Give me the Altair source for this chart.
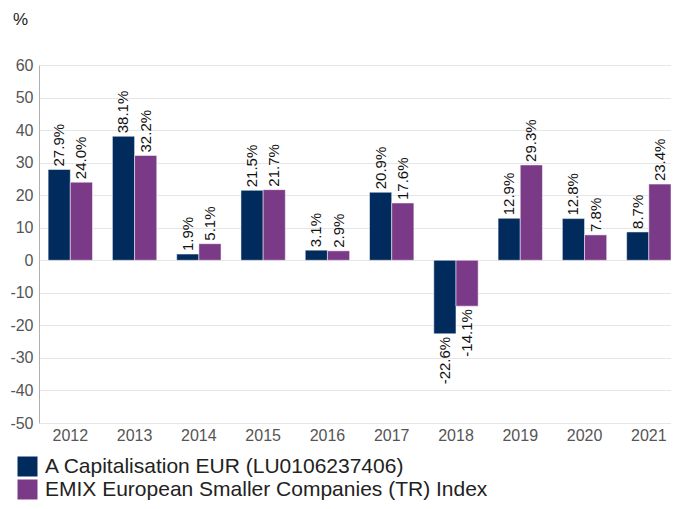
import altair as alt
import pandas as pd

years = ["2012", "2013", "2014", "2015", "2016", "2017", "2018", "2019", "2020", "2021"]
series_names = ["A Capitalisation EUR (LU0106237406)", "EMIX European Smaller Companies (TR) Index"]
fund = [27.9, 38.1, 1.9, 21.5, 3.1, 20.9, -22.6, 12.9, 12.8, 8.7]
index = [24.0, 32.2, 5.1, 21.7, 2.9, 17.6, -14.1, 29.3, 7.8, 23.4]
colors = ["#002B5C", "#7B3A88"]

rows = []
for i, y in enumerate(years):
    for s, vals in zip(series_names, [fund, index]):
        rows.append({"year": y, "series": s, "value": vals[i], "label": f"{vals[i]:.1f}%"})
df = pd.DataFrame(rows)

FONT = "Liberation Sans"

x = alt.X("year:N", title=None, sort=years,
          scale=alt.Scale(paddingInner=0.31, paddingOuter=0.071, align=1),
          axis=alt.Axis(labelAngle=0, labelFontSize=16, labelColor="#555555", labelFont=FONT,
                        ticks=False, domain=False, labelPadding=4, grid=False))
y = alt.Y("value:Q", title=None,
          scale=alt.Scale(domain=[-50, 60], nice=False),
          axis=alt.Axis(values=list(range(-50, 61, 10)), labelFontSize=16, labelColor="#555555",
                        labelFont=FONT, ticks=False, domain=True, domainColor="#b0b0b0",
                        gridColor="#e6e6e6", labelPadding=6, labelExpr="datum.value"))
xoff = alt.XOffset("series:N", sort=series_names)

base = alt.Chart(df)

bars = base.mark_bar(stroke="white", strokeWidth=0.5).encode(
    x=x, y=y, xOffset=xoff,
    color=alt.Color("series:N", sort=series_names,
                    scale=alt.Scale(domain=series_names, range=colors),
                    legend=alt.Legend(title=None, orient="none", legendX=-22, legendY=391,
                                      symbolType="square", symbolSize=400, symbolStrokeWidth=0,
                                      labelFontSize=21, labelFont=FONT, labelColor="#222222",
                                      labelLimit=700, rowPadding=1, symbolOffset=0, labelOffset=7))
)

pos = base.transform_filter("datum.value >= 0").mark_text(
    angle=270, align="left", baseline="middle", dx=3, fontSize=15, font=FONT, color="#111111"
).encode(x=x, y=y, xOffset=xoff, text="label:N")

neg = base.transform_filter("datum.value < 0").mark_text(
    angle=270, align="right", baseline="middle", dx=-3, fontSize=15, font=FONT, color="#111111"
).encode(x=x, y=y, xOffset=xoff, text="label:N")

pct = alt.Chart(pd.DataFrame({"t": ["%"]})).mark_text(
    align="left", baseline="middle", fontSize=17, font=FONT, color="#222222"
).encode(x=alt.value(-26), y=alt.value(-45), text="t:N")

chart = alt.layer(bars, pos, neg, pct).properties(
    width=632, height=358,
    autosize=alt.AutoSizeParams(type="none"),
    padding={"left": 31, "top": 57, "right": 0, "bottom": 78},
).configure_view(stroke=None).configure_axis(gridColor="#e6e6e6")

chart.save("out.html", embed_options={"renderer": "svg", "actions": False})
